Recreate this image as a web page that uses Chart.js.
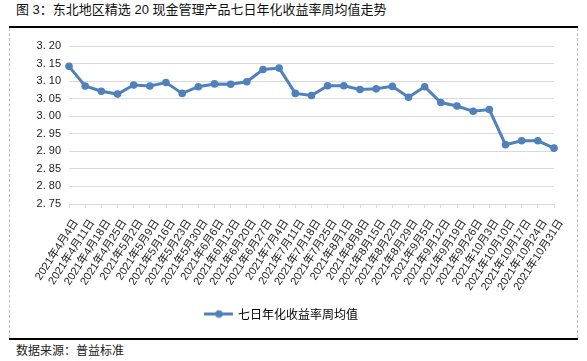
<!DOCTYPE html>
<html>
<head>
<meta charset="utf-8">
<script src="https://cdn.jsdelivr.net/npm/chart.js@4/dist/chart.umd.min.js"></script>
<style>
  body { margin: 0; background: #fff; width: 587px; height: 361px; position: relative; overflow: hidden;
         font-family: "Liberation Sans", "Noto Sans CJK SC", sans-serif; }
  #title { position: absolute; left: 16px; top: 2px; font-size: 13px; line-height: 16px; color: #111; white-space: nowrap; }
  .rule { position: absolute; left: 9px; width: 569px; height: 2px; background: #000; }
  #box { position: absolute; left: 9px; top: 28px; width: 567px; height: 310px;
         border-left: 1px dashed #bfbfbf; border-right: 1px dashed #bfbfbf; }
  #wrap { position: absolute; left: 10px; top: 29px; width: 567px; height: 309px; }
  #source { position: absolute; left: 16px; top: 343px; font-size: 12px; line-height: 16px; color: #222; }
</style>
</head>
<body>
<div id="title">图 3：东北地区精选 20 现金管理产品七日年化收益率周均值走势</div>
<div class="rule" style="top:26px"></div>
<div id="box"></div>
<div id="wrap"><canvas id="myChart" width="567" height="309"></canvas></div>
<div class="rule" style="top:338px"></div>
<div id="source">数据来源：普益标准</div>

<script>
// 每周日期（2021年4月4日 - 10月31日）
const weeks = [
  "2021年4月4日", "2021年4月11日", "2021年4月18日", "2021年4月25日",
  "2021年5月2日", "2021年5月9日", "2021年5月16日", "2021年5月23日", "2021年5月30日",
  "2021年6月6日", "2021年6月13日", "2021年6月20日", "2021年6月27日",
  "2021年7月4日", "2021年7月11日", "2021年7月18日", "2021年7月25日",
  "2021年8月1日", "2021年8月8日", "2021年8月15日", "2021年8月22日", "2021年8月29日",
  "2021年9月5日", "2021年9月12日", "2021年9月19日", "2021年9月26日",
  "2021年10月3日", "2021年10月10日", "2021年10月17日", "2021年10月24日", "2021年10月31日"
];

// 七日年化收益率周均值 (%)
const yieldAvg = [
  3.142, 3.086, 3.071, 3.063, 3.089, 3.086, 3.096, 3.065, 3.084,
  3.092, 3.091, 3.098, 3.133, 3.137, 3.065, 3.059, 3.087, 3.087,
  3.076, 3.078, 3.085, 3.054, 3.084, 3.039, 3.029, 3.014, 3.019,
  2.919, 2.930, 2.930, 2.909
];

const seriesName = "七日年化收益率周均值";
const yMin = 2.75;
const yMax = 3.20;
const yStep = 0.05;

const blue = "#4f81bd";

// legend marker : line + dot
const marker = document.createElement("canvas");
marker.width = 29;
marker.height = 9;
const m = marker.getContext("2d");
m.strokeStyle = blue;
m.lineWidth = 3;
m.beginPath();
m.moveTo(0, 4.5);
m.lineTo(29, 4.5);
m.stroke();
m.fillStyle = blue;
m.beginPath();
m.arc(14.5, 4.5, 3.8, 0, Math.PI * 2);
m.fill();

const ctx = document.getElementById("myChart").getContext("2d");
const myChart = new Chart(ctx, {
  type: "line",
  data: {
    labels: weeks,
    datasets: [{
      label: seriesName,
      data: yieldAvg,
      borderColor: blue,
      backgroundColor: blue,
      borderWidth: 3,
      pointRadius: 3.8,
      pointBackgroundColor: blue,
      pointBorderWidth: 0,
      pointStyle: "circle",
      tension: 0,
    }],
  },
  options: {
    responsive: false,
    animation: false,
    layout: { padding: { top: 17, right: 23, left: 0, bottom: 8 } },
    plugins: {
      tooltip: { enabled: false },
      legend: {
        position: "bottom",
        labels: {
          color: "#111",
          font: { size: 12, family: "'Noto Sans CJK SC', sans-serif" },
          usePointStyle: true,
          pointStyleWidth: 26,
          generateLabels: (chart) => [{
            text: seriesName,
            pointStyle: marker,
            fillStyle: blue,
            strokeStyle: blue,
            lineWidth: 0,
            datasetIndex: 0,
          }],
        },
      },
    },
    scales: {
      x: {
        offset: false,
        afterFit: (scale) => { scale.height = 94; },
        grid: {
          drawOnChartArea: false,
          drawTicks: true,
          tickLength: 4,
          color: "#d9d9d9",
        },
        border: { display: true, color: "#d9d9d9" },
        ticks: {
          autoSkip: false,
          minRotation: 57,
          maxRotation: 57,
          padding: 9,
          labelOffset: 7,
          color: "#222",
          font: { size: 11, family: "'Liberation Sans', 'Noto Sans CJK SC', sans-serif" },
        },
      },
      y: {
        min: yMin,
        max: yMax,
        afterFit: (scale) => { scale.width = 59; },
        grid: { color: "#d9d9d9", drawTicks: false },
        border: { display: false },
        ticks: {
          stepSize: yStep,
          padding: 8,
          color: "#222",
          font: { size: 11, family: "'Liberation Sans', sans-serif" },
          callback: (v) => v.toFixed(2).replace(".", ". "),
        },
      },
    },
  },
});
</script>
</body>
</html>
